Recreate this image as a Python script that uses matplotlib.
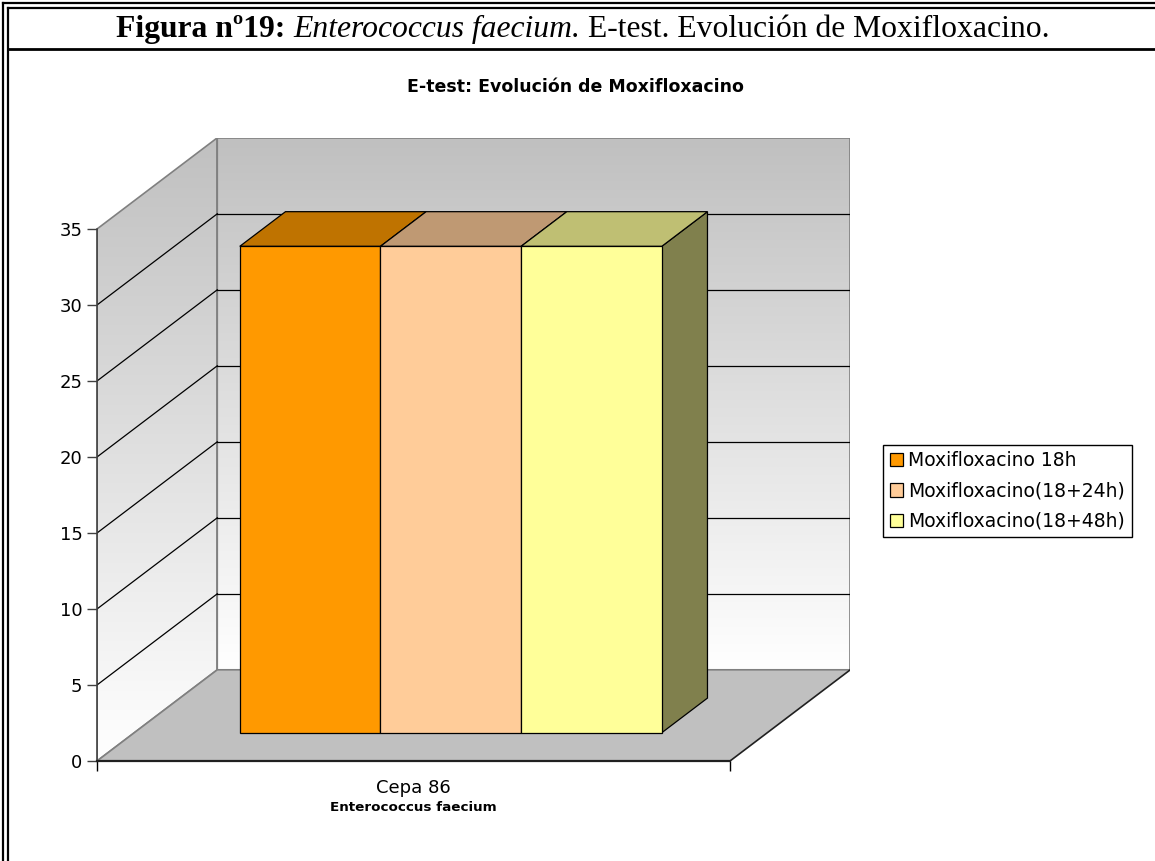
import numpy as np
import matplotlib.pyplot as plt
from matplotlib.patches import Polygon, Patch
from matplotlib.lines import Line2D
from matplotlib.colors import to_rgb, LinearSegmentedColormap

# data
series = ['Moxifloxacino 18h', 'Moxifloxacino(18+24h)', 'Moxifloxacino(18+48h)']
values = [32, 32, 32]
colors = ['#FF9900', '#FFCC99', '#FFFF99']
category = 'Cepa 86'
yticks = [0, 5, 10, 15, 20, 25, 30, 35]
ymax = 35

W, H = 1155, 861
DX, DY = 0.19, 6.0          # depth offset of the pseudo-3d box (x in category units, y in value units)
D0, D1 = 0.31, 0.69         # depth range of the bars
GAP = 1.5                   # excel style gap width

fig = plt.figure(figsize=(W / 100, H / 100), dpi=100)


def fx(px):
    return px / W


def fy(py):
    return 1 - py / H


def fline(x0, y0, x1, y1, lw=1.6):
    fig.add_artist(Line2D([fx(x0), fx(x1)], [fy(y0), fy(y1)], color='black',
                          lw=lw, transform=fig.transFigure))


# page frame (double border) and header separator
fline(3, 3, W, 3)
fline(8, 8, W, 8)
fline(3, 3, 3, H)
fline(8, 8, 8, H)
fline(8, 49, W, 49, lw=2)

# header with mixed styles
renderer = fig.canvas.get_renderer()
parts = [('Figura nº19: ', 'bold', 'normal'),
         ('Enterococcus faecium. ', 'normal', 'italic'),
         ('E-test. Evolución de Moxifloxacino.', 'normal', 'normal')]
htexts = []
for s, wgt, sty in parts:
    t = fig.text(0, fy(37), s, family='Liberation Serif', size=22.8,
                 weight=wgt, style=sty, va='baseline', ha='left')
    htexts.append(t)
widths = [t.get_window_extent(renderer).width for t in htexts]
x = 583 - sum(widths) / 2
for t, w in zip(htexts, widths):
    t.set_x(fx(x))
    x += w

fig.text(fx(575), fy(87), 'E-test: Evolución de Moxifloxacino', ha='center',
         va='center', fontsize=12.5, fontweight='bold')

# chart axes
ax = fig.add_axes([fx(97), fy(761), 633 * (1 + DX) / W, 15.2 * (ymax + DY) / H])
ax.patch.set_visible(False)

grad = np.linspace(0, 1, 256).reshape(-1, 1)
wall_cmap = LinearSegmentedColormap.from_list('wall', ['#FFFFFF', '#C0C0C0'])

# back wall
ax.imshow(grad, extent=[DX, 1 + DX, DY, ymax + DY], origin='lower', cmap=wall_cmap,
          aspect='auto', zorder=0)
ax.add_patch(Polygon([(DX, DY), (1 + DX, DY), (1 + DX, ymax + DY), (DX, ymax + DY)],
                     closed=True, fc='none', ec='#808080', lw=1.2, zorder=1))

# side wall
side = Polygon([(0, 0), (DX, DY), (DX, ymax + DY), (0, ymax)], closed=True,
               fc='none', ec='#808080', lw=1.2, zorder=1)
ax.add_patch(side)
im = ax.imshow(grad, extent=[0, DX, 0, ymax + DY], origin='lower', cmap=wall_cmap,
               aspect='auto', zorder=0)
im.set_clip_path(side)

# gridlines
for v in yticks[1:-1]:
    ax.plot([DX, 1 + DX], [v + DY, v + DY], color='black', lw=0.9, zorder=1)
    ax.plot([0, DX], [v, v + DY], color='black', lw=0.9, zorder=1)

# floor
ax.add_patch(Polygon([(0, 0), (1, 0), (1 + DX, DY), (DX, DY)], closed=True,
                     fc='#C0C0C0', ec='none', zorder=2))
ax.plot([0, DX, 1 + DX], [0, DY, DY], color='#808080', lw=1.2, zorder=2)
ax.plot([1, 1 + DX], [0, DY], color='#202020', lw=1.2, zorder=2)

# bars
n = len(values)
bw = 1 / (n + GAP)
for i, (val, col) in enumerate(zip(values, colors)):
    base = np.array(to_rgb(col))
    x0 = GAP / 2 * bw + i * bw
    x1 = x0 + bw
    fx0, fy0 = DX * D0, DY * D0
    bx0, by0 = DX * D1, DY * D1
    z = 3 + i
    ax.add_patch(Polygon([(x1 + fx0, fy0), (x1 + bx0, by0), (x1 + bx0, val + by0),
                          (x1 + fx0, val + fy0)], closed=True, fc=base * 0.5,
                         ec='black', lw=0.9, zorder=z))
    ax.add_patch(Polygon([(x0 + fx0, val + fy0), (x1 + fx0, val + fy0),
                          (x1 + bx0, val + by0), (x0 + bx0, val + by0)], closed=True,
                         fc=base * 0.75, ec='black', lw=0.9, zorder=z))
    ax.add_patch(Polygon([(x0 + fx0, fy0), (x1 + fx0, fy0), (x1 + fx0, val + fy0),
                          (x0 + fx0, val + fy0)], closed=True, fc=base,
                         ec='black', lw=0.9, zorder=z))

ax.set_xlim(0, 1 + DX)
ax.set_ylim(0, ymax + DY)

for s in ['top', 'right']:
    ax.spines[s].set_visible(False)
ax.spines['left'].set_bounds(0, ymax)
ax.spines['left'].set_color('#404040')
ax.spines['left'].set_linewidth(1.2)
ax.spines['bottom'].set_bounds(0, 1)
ax.spines['bottom'].set_color('#202020')
ax.spines['bottom'].set_linewidth(1.6)

ax.set_yticks(yticks)
ax.tick_params(axis='y', direction='out', length=7, width=1, color='#404040',
               pad=3.5, labelsize=13)
ax.set_xticks([0, 1])
ax.set_xticklabels(['', ''])
ax.tick_params(axis='x', which='major', direction='out', length=7, width=1, color='black')
ax.set_xticks([0.5], [category], minor=True)
ax.tick_params(axis='x', which='minor', length=0, pad=13, labelsize=13)
ax.set_xlabel('Enterococcus faecium', fontsize=9.7, fontweight='bold', labelpad=3)
ax.xaxis.label.set_x(0.5 / (1 + DX))

handles = [Patch(facecolor=c, edgecolor='black', lw=0.9) for c in colors]
leg = fig.legend(handles, series, loc='center left', bbox_to_anchor=(fx(883), fy(491)),
                 frameon=True, fancybox=False, edgecolor='black', framealpha=1,
                 fontsize=13.5, handlelength=0.7, handleheight=0.7, handletextpad=0.3,
                 labelspacing=0.6, borderpad=0.35, borderaxespad=0)
leg.get_frame().set_linewidth(1.0)

fig.savefig('out.png', dpi=100)
